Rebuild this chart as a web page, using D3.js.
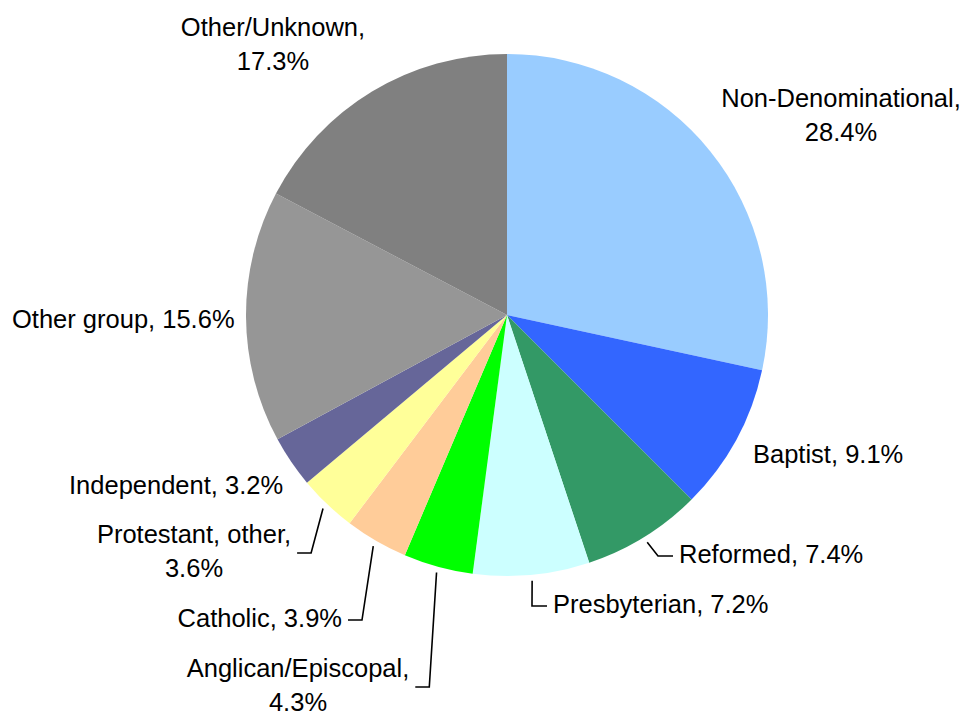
<!DOCTYPE html>
<html>
<head>
<meta charset="utf-8">
<script src="https://cdn.jsdelivr.net/npm/d3@7"></script>
<style>
    body { margin: 0; background: #fff; }
    text { font-family: "Liberation Sans", Arial, sans-serif; font-size: 25.5px; fill: #000; }
</style>
</head>
<body>
<div id="my_dataviz"></div>
<script>
// data, clockwise from 12 o'clock
var categories = ["Non-Denominational", "Baptist", "Reformed", "Presbyterian", "Anglican/Episcopal",
    "Catholic", "Protestant, other", "Independent", "Other group", "Other/Unknown"];
var shares = [28.4, 9.1, 7.4, 7.2, 4.3, 3.9, 3.6, 3.2, 15.6, 17.3];
var colors = ["#99CCFF", "#3366FF", "#339966", "#CCFFFF", "#00FF00",
    "#FFCC99", "#FFFF99", "#666699", "#969696", "#808080"];

// label layout: [x, first baseline, anchor, line break?, leader side]
var labelLayout = [
    [841, 107, "middle", true, null],
    [753, 463, "start", false, null],
    [679, 563, "start", false, "left"],
    [553, 613, "start", false, "left"],
    [298, 677, "middle", true, "right"],
    [342, 627, "end", false, "right"],
    [194, 543, "middle", true, "right"],
    [69, 494, "start", false, null],
    [12, 328, "start", false, null],
    [273, 36, "middle", true, null]
];

var width = 964,
    height = 713,
    cx = 507,
    cy = 315,
    radius = 261;

var svg = d3.select("#my_dataviz")
    .append("svg")
    .attr("width", width)
    .attr("height", height);

var data = categories.map(function (c, i) {
    return { name: c, value: shares[i], color: colors[i], layout: labelLayout[i] };
});

var pie = d3.pie()
    .value(function (d) { return d.value; })
    .sort(null);

var arc = d3.arc()
    .innerRadius(0)
    .outerRadius(radius);

var arcs = pie(data);

var g = svg.append("g")
    .attr("transform", "translate(" + cx + "," + cy + ")");

// slices
g.selectAll("path.slice")
    .data(arcs)
    .enter()
    .append("path")
    .attr("class", "slice")
    .attr("d", arc)
    .style("fill", function (d) { return d.data.color; });

// labels
var labels = svg.selectAll("text.lbl")
    .data(arcs)
    .enter()
    .append("text")
    .attr("class", "lbl")
    .attr("text-anchor", function (d) { return d.data.layout[2]; });

labels.each(function (d) {
    var t = d3.select(this),
        lay = d.data.layout,
        pct = d.data.value.toFixed(1) + "%";
    if (lay[3]) {
        t.append("tspan").attr("x", lay[0]).attr("y", lay[1]).text(d.data.name + ",");
        t.append("tspan").attr("x", lay[0]).attr("y", lay[1] + 34).text(pct);
    } else {
        t.append("tspan").attr("x", lay[0]).attr("y", lay[1]).text(d.data.name + ", " + pct);
    }
});

// leader lines
labels.each(function (d) {
    var side = d.data.layout[4];
    if (!side) return;
    var first = d3.select(this).select("tspan").node().getBBox(),
        box = this.getBBox(),
        ly = box.y + box.height / 2 + 2,
        mid = (d.startAngle + d.endAngle) / 2,
        r = radius + 6,
        sx = cx + r * Math.sin(mid),
        sy = cy - r * Math.cos(mid),
        ex, kx;
    if (side === "left") {
        ex = first.x - 6;
        kx = first.x - 21;
    } else {
        ex = first.x + first.width + 6;
        kx = first.x + first.width + 20;
    }
    svg.append("path")
        .attr("d", "M" + sx + "," + sy + "L" + kx + "," + ly + "L" + ex + "," + ly)
        .style("fill", "none")
        .style("stroke", "#000")
        .style("stroke-width", 1.6);
});
</script>
</body>
</html>
